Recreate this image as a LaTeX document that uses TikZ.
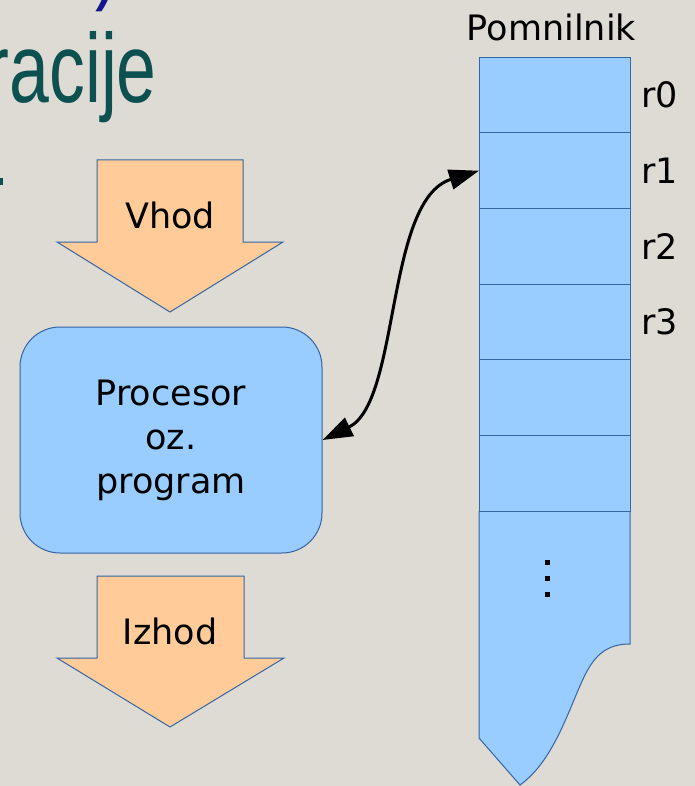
\documentclass[tikz,border=0pt]{standalone}
\usepackage{fontspec}
\setmainfont{DejaVu Sans}
\newfontfamily\naslovfont{Liberation Sans}
\usetikzlibrary{arrows.meta,positioning}

\definecolor{ozadje}{RGB}{221,219,212}
\definecolor{celica}{RGB}{153,204,255}
\definecolor{puscica}{RGB}{255,204,153}
\definecolor{rob}{RGB}{52,101,164}
\definecolor{naslov}{RGB}{12,80,80}
\definecolor{oklepaj}{RGB}{20,20,140}

\begin{document}
\begin{tikzpicture}[
  x=1pt, y=-1pt,
  >={Triangle[length=30pt,width=20pt]},
  node distance=0pt,
  txt/.style={font=\fontsize{35}{44}\selectfont},
  cell/.style={draw=rob, fill=celica, line width=1pt, minimum width=151pt,
               minimum height=75.7pt, inner sep=0pt, outer sep=0pt},
  mem/.style={draw=rob, fill=celica, line width=1pt},
  io/.style={draw=rob, fill=puscica, line width=1pt},
  proc/.style={draw=rob, fill=celica, line width=1pt, rounded corners=40pt,
               minimum width=302pt, minimum height=226pt, align=center, txt}
]
\useasboundingbox (0,0) rectangle (695,786);
\fill[ozadje] (0,0) rectangle (695,786);
\clip (0,0) rectangle (695,786);

% slide title, cut off at the edge
\node[anchor=base east, inner sep=0pt, text=naslov,
      font=\naslovfont\fontsize{98}{98}\selectfont] (naslov) at (157,103) {\scalebox{0.73}[1]{racije}};
\node[anchor=base west, inner sep=0pt, text=oklepaj,
      font=\naslovfont\fontsize{98}{98}\selectfont] (oklepaj) at (95,-8) {\scalebox{0.73}[1]{)}};
\fill[naslov] (0,178) rectangle (3,185);

% memory: tail first, then the cells
\draw[mem] (479,511) -- (479,738) -- (520,785)
  .. controls (555,760) and (570,705) .. (585,675)
  .. controls (595,655) and (607,644) .. (630,644) -- (630,511);
\node[cell] (cell0) at (554.5,95) {};
\foreach \i [remember=\i as \j (initially 0)] in {1,...,5}
  \node[cell, below=of cell\j] (cell\i) {};
\foreach \i in {0,...,3}
  \node[txt, right=8pt of cell\i] (r\i) {r\i};
\node[txt, above=13pt of cell0, xshift=-3pt] (pomnilnik) {Pomnilnik};
\foreach \y in {562,578,594}
  \fill (544.5,\y-2.5) rectangle ++(5,5);

% processor with input and output
\draw[io] (97,160) -- (243,160) -- (243,242) -- (283,242) -- (170,312) -- (57,242) -- (97,242) -- cycle;
\node[txt] (vhod) at (170,215) {Vhod};
\node[proc] (procesor) at (171,440) {Procesor\\oz.\\program};
\draw[io] (97,576) -- (244,576) -- (244,658) -- (284,658) -- (170,727) -- (57,658) -- (97,658) -- cycle;
\node[txt] (izhod) at (170,631) {Izhod};

\draw[<->, line width=3pt] (procesor.east) .. controls +(78,-38) and +(-94,29) .. (cell1.west);

\end{tikzpicture}
\end{document}
